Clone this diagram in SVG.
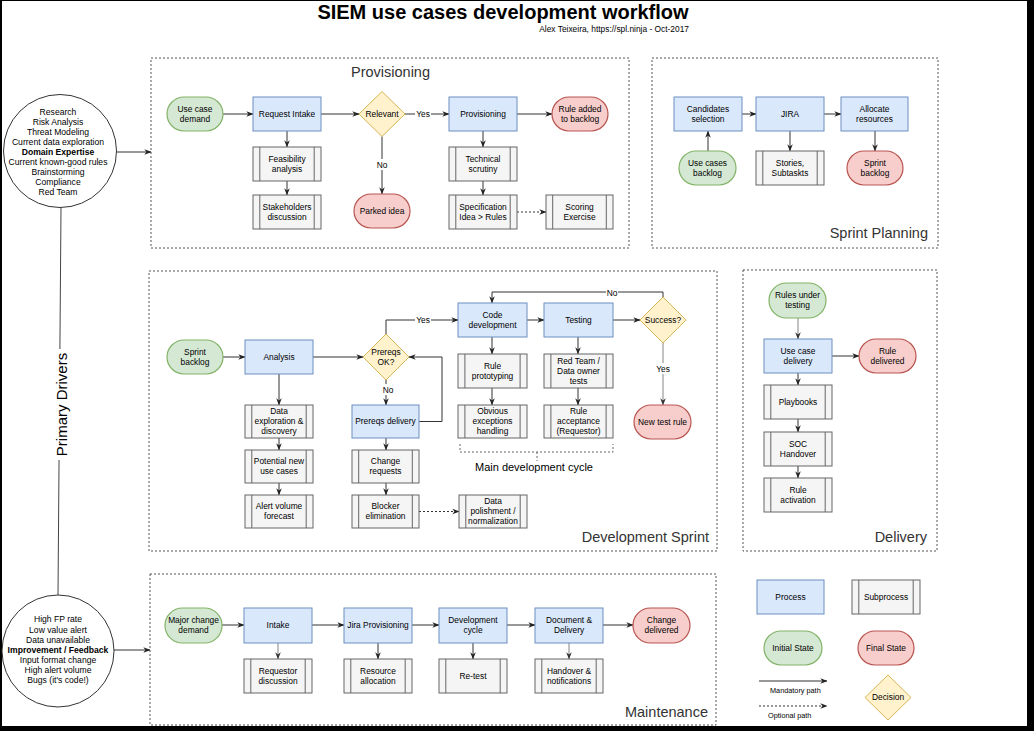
<svg xmlns="http://www.w3.org/2000/svg" width="1034" height="731" viewBox="0 0 1034 731">
<style>
text{font-family:"Liberation Sans",Arial,Helvetica,sans-serif;fill:#000}
.t{font-size:8.4px;text-anchor:middle}
.ct{font-size:8.6px;text-anchor:middle}
.b{font-weight:bold}
.p{fill:#dae8fc;stroke:#6c8ebf;stroke-width:1}
.s{fill:#f5f5f5;stroke:#666;stroke-width:1}
.sl{stroke:#666;stroke-width:1}
.g{fill:#d5e8d4;stroke:#82b366;stroke-width:1.2}
.r{fill:#f8cecc;stroke:#b85450;stroke-width:1.2}
.d{fill:#fff2cc;stroke:#d6b656;stroke-width:1}
.sec{fill:none;stroke:#555;stroke-width:1;stroke-dasharray:2 2}
.sect{font-size:14.5px;fill:#333}
.c{fill:none;stroke:#333;stroke-width:1;marker-end:url(#a)}
.cg{fill:none;stroke:#999;stroke-width:1.2;marker-end:url(#ag)}
.co{fill:none;stroke:#333;stroke-width:1;stroke-dasharray:2 2;marker-end:url(#a)}
.lbl{fill:#fff}
</style>
<defs>
<marker id="a" viewBox="0 0 10 10" refX="9.5" refY="5" markerWidth="7" markerHeight="7" markerUnits="userSpaceOnUse" orient="auto"><path d="M0,1 L10,5 L0,9 L3,5 z" fill="#222"/></marker>
<marker id="ag" viewBox="0 0 10 10" refX="9.5" refY="5" markerWidth="7" markerHeight="7" markerUnits="userSpaceOnUse" orient="auto"><path d="M0,1 L10,5 L0,9 L3,5 z" fill="#333"/></marker>
</defs>
<rect x="0" y="0" width="1034" height="731" fill="#000"/>
<rect x="2" y="1" width="1025" height="725" fill="#fff"/>

<g id="title">
<text x="503" y="19" font-size="20" font-weight="bold" text-anchor="middle">SIEM use cases development workflow</text>
<text x="689" y="32" font-size="8.4" text-anchor="end" fill="#333">Alex Teixeira, https://spl.ninja - Oct-2017</text>
</g>

<g id="sections">
<rect class="sec" x="151" y="58" width="478" height="190"/>
<text class="sect" x="390.5" y="77" text-anchor="middle">Provisioning</text>
<rect class="sec" x="652" y="58" width="286" height="190"/>
<text class="sect" x="928" y="238" text-anchor="end">Sprint Planning</text>
<rect class="sec" x="149" y="271" width="568" height="280"/>
<text class="sect" x="709" y="542" text-anchor="end">Development Sprint</text>
<rect class="sec" x="743" y="270" width="194" height="281"/>
<text class="sect" x="927" y="542" text-anchor="end">Delivery</text>
<rect class="sec" x="150" y="574" width="566" height="151"/>
<text class="sect" x="708" y="717" text-anchor="end">Maintenance</text>
</g>

<g id="connectors">
<line x1="61" y1="207.5" x2="58" y2="595" stroke="#444" stroke-width="1"/>
<path class="c" d="M116.5,152 H151"/>
<path class="c" d="M114,650 H150"/>
<!-- provisioning -->
<path class="c" d="M223,114 H253"/>
<path class="c" d="M321,114 H359"/>
<path class="c" d="M287,131 V147"/>
<path class="c" d="M287,181 V195"/>
<path class="c" d="M382,136.5 V194"/>
<path class="c" d="M405,114 H449"/>
<path class="c" d="M517,114 H552"/>
<path class="c" d="M483,131 V147"/>
<path class="c" d="M483,181 V195"/>
<path class="co" d="M517,212 H546"/>
<!-- sprint planning -->
<path class="c" d="M742,114 H756"/>
<path class="c" d="M824,114 H841"/>
<path class="c" d="M708,151 V131"/>
<path class="c" d="M790,131 V151"/>
<path class="c" d="M875,131 V151"/>
<!-- development sprint -->
<path class="c" d="M223,357 H245"/>
<path class="c" d="M313,357 H363"/>
<path class="c" d="M386,380 V405"/>
<path class="c" d="M419,421.5 H442 V357 H409"/>
<path class="c" d="M386,334 V320 H458"/>
<path class="c" d="M279,374 V405"/>
<path class="c" d="M279,438 V450"/>
<path class="c" d="M279,483 V495"/>
<path class="c" d="M386,438 V450"/>
<path class="c" d="M386,483 V495"/>
<path class="co" d="M419,511.5 H459"/>
<path class="c" d="M527,320 H544"/>
<path class="c" d="M613,320 H640"/>
<path class="c" d="M663,297 V292 H492 V303"/>
<path class="cg" d="M663,343 V405"/>
<path class="c" d="M492,337 V354"/>
<path class="c" d="M492,388 V405"/>
<path class="c" d="M578,337 V354"/>
<path class="c" d="M578,388 V405"/>
<path d="M460,444 V452 H613 V444 M537,452 V461" fill="none" stroke="#666" stroke-width="1" stroke-dasharray="2 2"/>
<!-- delivery -->
<path class="cg" d="M798,318 V339"/>
<path class="c" d="M832,356 H859"/>
<path class="c" d="M798,373 V385"/>
<path class="c" d="M798,419 V432"/>
<path class="c" d="M798,466 V478"/>
<!-- maintenance -->
<path class="c" d="M222,625 H244"/>
<path class="c" d="M312,625 H344"/>
<path class="c" d="M412,625 H439"/>
<path class="c" d="M507,625 H535"/>
<path class="c" d="M603,625 H633"/>
<path class="cg" d="M278,643 V659"/>
<path class="c" d="M378,643 V659"/>
<path class="c" d="M473,643 V659"/>
<path class="cg" d="M569,643 V659"/>
<!-- edge labels -->
<rect class="lbl" x="376" y="159" width="12" height="11"/>
<text class="t" x="382" y="168">No</text>
<rect class="lbl" x="415" y="109" width="16" height="11"/>
<text class="t" x="423" y="117">Yes</text>
<rect class="lbl" x="415" y="315" width="16" height="11"/>
<text class="t" x="423" y="323">Yes</text>
<rect class="lbl" x="382" y="384" width="12" height="11"/>
<text class="t" x="388" y="392.5">No</text>
<rect class="lbl" x="606" y="288" width="12" height="10"/>
<text class="t" x="612" y="296">No</text>
<rect class="lbl" x="655" y="363" width="16" height="11"/>
<text class="t" x="663" y="372">Yes</text>
<text x="534" y="471" font-size="11" text-anchor="middle">Main development cycle</text>
<!-- legend arrows -->
<path class="c" d="M759,681 H827"/>
<path class="co" d="M759,706 H827"/>
</g>

<g id="driver-primary">
<circle cx="60" cy="151" r="56.5" fill="#fff" stroke="#333" stroke-width="1"/>
<text class="ct" x="58" y="115">Research</text>
<text class="ct" x="58" y="125">Risk Analysis</text>
<text class="ct" x="58" y="135">Threat Modeling</text>
<text class="ct" x="58" y="145">Current data exploration</text>
<text class="ct b" x="58" y="155">Domain Expertise</text>
<text class="ct" x="58" y="165">Current known-good rules</text>
<text class="ct" x="58" y="175">Brainstorming</text>
<text class="ct" x="58" y="185">Compliance</text>
<text class="ct" x="58" y="195">Red Team</text>
</g>

<g id="driver-label">
<rect x="52" y="349" width="18" height="111" fill="#fff"/>
<text x="0" y="0" font-size="15" text-anchor="middle" transform="translate(66.5,404.5) rotate(-90)">Primary Drivers</text>
</g>

<g id="driver-feedback">
<circle cx="58" cy="651" r="56" fill="#fff" stroke="#333" stroke-width="1"/>
<text class="ct" x="58" y="622">High FP rate</text>
<text class="ct" x="58" y="632.5">Low value alert</text>
<text class="ct" x="58" y="643">Data unavailable</text>
<text class="ct b" x="58" y="653">Improvement / Feedback</text>
<text class="ct" x="58" y="663">Input format change</text>
<text class="ct" x="58" y="673">High alert volume</text>
<text class="ct" x="58" y="683">Bugs (it's code!)</text>
</g>

<!-- Provisioning nodes -->
<g id="use-case-demand"><rect class="g" x="167" y="97" width="56" height="34" rx="17"/><text class="t" x="195" y="111.5">Use case</text><text class="t" x="195" y="121.5">demand</text></g>
<g id="request-intake"><rect class="p" x="253" y="97" width="68" height="34"/><text class="t" x="287" y="116.5">Request Intake</text></g>
<g id="feasibility"><rect class="s" x="253" y="147" width="68" height="34"/><path class="sl" d="M259.8,147 V181 M314.2,147 V181"/><text class="t" x="287" y="161.5">Feasibility</text><text class="t" x="287" y="171.5">analysis</text></g>
<g id="stakeholders"><rect class="s" x="253" y="195" width="68" height="34"/><path class="sl" d="M259.8,195 V229 M314.2,195 V229"/><text class="t" x="287" y="209.5">Stakeholders</text><text class="t" x="287" y="219.5">discussion</text></g>
<g id="relevant"><polygon class="d" points="382,91.5 405,114 382,136.5 359,114"/><text class="t" x="382" y="116.5">Relevant</text></g>
<g id="parked-idea"><rect class="r" x="354" y="194" width="56" height="34" rx="17"/><text class="t" x="382" y="213.5">Parked idea</text></g>
<g id="provisioning"><rect class="p" x="449" y="97" width="68" height="34"/><text class="t" x="483" y="116.5">Provisioning</text></g>
<g id="rule-added"><rect class="r" x="552" y="97" width="56" height="34" rx="17"/><text class="t" x="580" y="111.5">Rule added</text><text class="t" x="580" y="121.5">to backlog</text></g>
<g id="technical-scrutiny"><rect class="s" x="449" y="147" width="68" height="34"/><path class="sl" d="M455.8,147 V181 M510.2,147 V181"/><text class="t" x="483" y="161.5">Technical</text><text class="t" x="483" y="171.5">scrutiny</text></g>
<g id="specification"><rect class="s" x="449" y="195" width="68" height="34"/><path class="sl" d="M455.8,195 V229 M510.2,195 V229"/><text class="t" x="483" y="209.5">Specification</text><text class="t" x="483" y="219.5">Idea &gt; Rules</text></g>
<g id="scoring"><rect class="s" x="546" y="195" width="67" height="34"/><path class="sl" d="M552.7,195 V229 M606.3,195 V229"/><text class="t" x="579.5" y="209.5">Scoring</text><text class="t" x="579.5" y="219.5">Exercise</text></g>

<!-- Sprint planning nodes -->
<g id="candidates"><rect class="p" x="674" y="97" width="68" height="34"/><text class="t" x="708" y="111.5">Candidates</text><text class="t" x="708" y="121.5">selection</text></g>
<g id="jira"><rect class="p" x="756" y="97" width="68" height="34"/><text class="t" x="790" y="116.5">JIRA</text></g>
<g id="allocate"><rect class="p" x="841" y="97" width="67" height="34"/><text class="t" x="874.5" y="111.5">Allocate</text><text class="t" x="874.5" y="121.5">resources</text></g>
<g id="use-cases-backlog"><rect class="g" x="679" y="151" width="57" height="34" rx="17"/><text class="t" x="707.5" y="165.5">Use cases</text><text class="t" x="707.5" y="175.5">backlog</text></g>
<g id="stories"><rect class="s" x="756" y="151" width="68" height="34"/><path class="sl" d="M762.8,151 V185 M817.2,151 V185"/><text class="t" x="790" y="165.5">Stories,</text><text class="t" x="790" y="175.5">Subtaskts</text></g>
<g id="sprint-backlog-plan"><rect class="r" x="847" y="151" width="56" height="34" rx="17"/><text class="t" x="875" y="165.5">Sprint</text><text class="t" x="875" y="175.5">backlog</text></g>

<!-- Development sprint nodes -->
<g id="sprint-backlog-dev"><rect class="g" x="167" y="340" width="56" height="34" rx="17"/><text class="t" x="195" y="354.5">Sprint</text><text class="t" x="195" y="364.5">backlog</text></g>
<g id="analysis"><rect class="p" x="245" y="340" width="68" height="34"/><text class="t" x="279" y="359.5">Analysis</text></g>
<g id="prereqs-ok"><polygon class="d" points="386,334 409,357 386,380 363,357"/><text class="t" x="386" y="354.5">Prereqs</text><text class="t" x="386" y="364.5">OK?</text></g>
<g id="prereqs-delivery"><rect class="p" x="352" y="405" width="67" height="33"/><text class="t" x="385.5" y="424">Prereqs delivery</text></g>
<g id="data-exploration"><rect class="s" x="245" y="405" width="68" height="33"/><path class="sl" d="M251.8,405 V438 M306.2,405 V438"/><text class="t" x="279" y="414">Data</text><text class="t" x="279" y="424">exploration &amp;</text><text class="t" x="279" y="434">discovery</text></g>
<g id="potential-new"><rect class="s" x="245" y="450" width="68" height="33"/><path class="sl" d="M251.8,450 V483 M306.2,450 V483"/><text class="t" x="279" y="464">Potential new</text><text class="t" x="279" y="474">use cases</text></g>
<g id="alert-volume"><rect class="s" x="245" y="495" width="68" height="33"/><path class="sl" d="M251.8,495 V528 M306.2,495 V528"/><text class="t" x="279" y="509">Alert volume</text><text class="t" x="279" y="519">forecast</text></g>
<g id="change-requests"><rect class="s" x="352" y="450" width="67" height="33"/><path class="sl" d="M358.7,450 V483 M412.3,450 V483"/><text class="t" x="385.5" y="464">Change</text><text class="t" x="385.5" y="474">requests</text></g>
<g id="blocker"><rect class="s" x="352" y="495" width="67" height="33"/><path class="sl" d="M358.7,495 V528 M412.3,495 V528"/><text class="t" x="385.5" y="509">Blocker</text><text class="t" x="385.5" y="519">elimination</text></g>
<g id="code-dev"><rect class="p" x="458" y="303" width="69" height="34"/><text class="t" x="492.5" y="317.5">Code</text><text class="t" x="492.5" y="327.5">development</text></g>
<g id="testing"><rect class="p" x="544" y="303" width="69" height="34"/><text class="t" x="578.5" y="322.5">Testing</text></g>
<g id="success"><polygon class="d" points="663,297 686,320 663,343 640,320"/><text class="t" x="663" y="322.5">Success?</text></g>
<g id="new-test-rule"><rect class="r" x="634" y="405" width="57" height="34" rx="17"/><text class="t" x="662.5" y="424.5">New test rule</text></g>
<g id="rule-prototyping"><rect class="s" x="458" y="354" width="69" height="34"/><path class="sl" d="M464.9,354 V388 M520.1,354 V388"/><text class="t" x="492.5" y="368.5">Rule</text><text class="t" x="492.5" y="378.5">prototyping</text></g>
<g id="obvious-exceptions"><rect class="s" x="458" y="405" width="69" height="33"/><path class="sl" d="M464.9,405 V438 M520.1,405 V438"/><text class="t" x="492.5" y="414">Obvious</text><text class="t" x="492.5" y="424">exceptions</text><text class="t" x="492.5" y="434">handling</text></g>
<g id="red-team-tests"><rect class="s" x="544" y="354" width="69" height="34"/><path class="sl" d="M550.9,354 V388 M606.1,354 V388"/><text class="t" x="578.5" y="363.5">Red Team /</text><text class="t" x="578.5" y="373.5">Data owner</text><text class="t" x="578.5" y="383.5">tests</text></g>
<g id="rule-acceptance"><rect class="s" x="544" y="405" width="69" height="33"/><path class="sl" d="M550.9,405 V438 M606.1,405 V438"/><text class="t" x="578.5" y="414">Rule</text><text class="t" x="578.5" y="424">acceptance</text><text class="t" x="578.5" y="434">(Requestor)</text></g>
<g id="data-polishment"><rect class="s" x="459" y="495" width="68" height="33"/><path class="sl" d="M465.8,495 V528 M520.2,495 V528"/><text class="t" x="493" y="504">Data</text><text class="t" x="493" y="514">polishment /</text><text class="t" x="493" y="524">normalization</text></g>

<!-- Delivery nodes -->
<g id="rules-under-testing"><rect class="g" x="769" y="283" width="57" height="35" rx="17.5"/><text class="t" x="797.5" y="298">Rules under</text><text class="t" x="797.5" y="308">testing</text></g>
<g id="use-case-delivery"><rect class="p" x="764" y="339" width="68" height="34"/><text class="t" x="798" y="353.5">Use case</text><text class="t" x="798" y="363.5">delivery</text></g>
<g id="rule-delivered"><rect class="r" x="859" y="339" width="57" height="34" rx="17"/><text class="t" x="887.5" y="353.5">Rule</text><text class="t" x="887.5" y="363.5">delivered</text></g>
<g id="playbooks"><rect class="s" x="764" y="385" width="68" height="34"/><path class="sl" d="M770.8,385 V419 M825.2,385 V419"/><text class="t" x="798" y="404.5">Playbooks</text></g>
<g id="soc-handover"><rect class="s" x="764" y="432" width="68" height="34"/><path class="sl" d="M770.8,432 V466 M825.2,432 V466"/><text class="t" x="798" y="446.5">SOC</text><text class="t" x="798" y="456.5">Handover</text></g>
<g id="rule-activation"><rect class="s" x="764" y="478" width="68" height="34"/><path class="sl" d="M770.8,478 V512 M825.2,478 V512"/><text class="t" x="798" y="492.5">Rule</text><text class="t" x="798" y="502.5">activation</text></g>

<!-- Maintenance nodes -->
<g id="major-change"><rect class="g" x="165" y="608" width="57" height="35" rx="17.5"/><text class="t" x="193.5" y="623">Major change</text><text class="t" x="193.5" y="633">demand</text></g>
<g id="intake"><rect class="p" x="244" y="608" width="68" height="35"/><text class="t" x="278" y="628">Intake</text></g>
<g id="jira-provisioning"><rect class="p" x="344" y="608" width="68" height="35"/><text class="t" x="378" y="628">Jira Provisioning</text></g>
<g id="development-cycle"><rect class="p" x="439" y="608" width="68" height="35"/><text class="t" x="473" y="623">Development</text><text class="t" x="473" y="633">cycle</text></g>
<g id="document-delivery"><rect class="p" x="535" y="608" width="68" height="35"/><text class="t" x="569" y="623">Document &amp;</text><text class="t" x="569" y="633">Delivery</text></g>
<g id="change-delivered"><rect class="r" x="633" y="608" width="57" height="35" rx="17.5"/><text class="t" x="661.5" y="623">Change</text><text class="t" x="661.5" y="633">delivered</text></g>
<g id="requestor-discussion"><rect class="s" x="244" y="659" width="68" height="34"/><path class="sl" d="M250.8,659 V693 M305.2,659 V693"/><text class="t" x="278" y="673.5">Requestor</text><text class="t" x="278" y="683.5">discussion</text></g>
<g id="resource-allocation"><rect class="s" x="344" y="659" width="68" height="34"/><path class="sl" d="M350.8,659 V693 M405.2,659 V693"/><text class="t" x="378" y="673.5">Resource</text><text class="t" x="378" y="683.5">allocation</text></g>
<g id="re-test"><rect class="s" x="439" y="659" width="68" height="34"/><path class="sl" d="M445.8,659 V693 M500.2,659 V693"/><text class="t" x="473" y="678.5">Re-test</text></g>
<g id="handover-notifications"><rect class="s" x="535" y="659" width="68" height="34"/><path class="sl" d="M541.8,659 V693 M596.2,659 V693"/><text class="t" x="569" y="673.5">Handover &amp;</text><text class="t" x="569" y="683.5">notifications</text></g>

<!-- Legend -->
<g id="legend-process"><rect class="p" x="757" y="580" width="67" height="34"/><text class="t" x="790.5" y="599.5">Process</text></g>
<g id="legend-subprocess"><rect class="s" x="852" y="580" width="68" height="34"/><path class="sl" d="M858.8,580 V614 M913.2,580 V614"/><text class="t" x="886" y="599.5">Subprocess</text></g>
<g id="legend-initial"><rect class="g" x="764" y="631" width="58" height="34" rx="17"/><text class="t" x="793" y="650.5">Initial State</text></g>
<g id="legend-final"><rect class="r" x="858" y="631" width="56" height="34" rx="17"/><text class="t" x="886" y="650.5">Final State</text></g>
<g id="legend-decision"><polygon class="d" points="888,675 911,697.5 888,720 865,697.5"/><text class="t" x="888" y="700">Decision</text></g>
<g id="legend-paths"><text x="770" y="693" font-size="7.3">Mandatory path</text><text x="768" y="718" font-size="7.3">Optional path</text></g>
</svg>
